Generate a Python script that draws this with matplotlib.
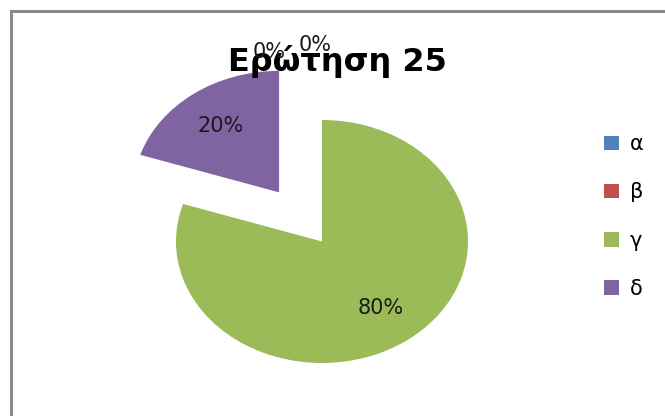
import matplotlib
matplotlib.use('Agg')
import matplotlib.pyplot as plt
from matplotlib.patches import Rectangle

labels = ['α', 'β', 'γ', 'δ']
values = [0, 0, 80, 20]
colors = ['#4F81BD', '#C0504D', '#9BBB59', '#8064A2']
title = 'Ερώτηση 25'

W, H = 665, 416
fig = plt.figure(figsize=(W / 100, H / 100), dpi=100)
ax = fig.add_axes([0, 0, 1, 1])

# pie is stretched wider than tall in the reference
cx, cy, rx, ry = 322, 241.5, 146, 121.5

wedges, texts, autotexts = ax.pie(
    values, colors=colors, startangle=90, counterclock=False,
    explode=[0, 0, 0, 0.5], autopct='%.0f%%', pctdistance=0.68,
    wedgeprops={'linewidth': 0}, textprops={'fontsize': 15, 'color': '#1a1a1a'})
ax.set_aspect('auto')
ax.set_xlim(-cx / rx, (W - cx) / rx)
ax.set_ylim(-(H - cy) / ry, cy / ry)
ax.axis('off')

# Excel pushes the zero labels above the pie
zero_pos = [(-0.36, 1.56), (-0.05, 1.62)]
k = 0
for v, t in zip(values, autotexts):
    if v == 0:
        t.set_position(zero_pos[k])
        k += 1

# title sits under the data labels, as in the reference
ax.text(337 / W, 1 - 62 / H, title, fontsize=23, fontweight='bold',
        ha='center', va='center', transform=fig.transFigure, zorder=2)

fig.legend(wedges, labels, loc='center left', frameon=False,
           bbox_to_anchor=(604 / W, 1 - 216.5 / H), borderpad=0, borderaxespad=0,
           fontsize=15, handlelength=0.7, handleheight=0.7, handletextpad=0.55,
           labelspacing=1.35)

# chart border (only top and left are visible in the crop)
fig.patches.append(Rectangle((10.5 / W, -0.1), 2, 1.1 - 11 / H, transform=fig.transFigure,
                             fill=False, edgecolor='#8a8a8a', linewidth=2.2))

fig.savefig('out.png', dpi=100)
